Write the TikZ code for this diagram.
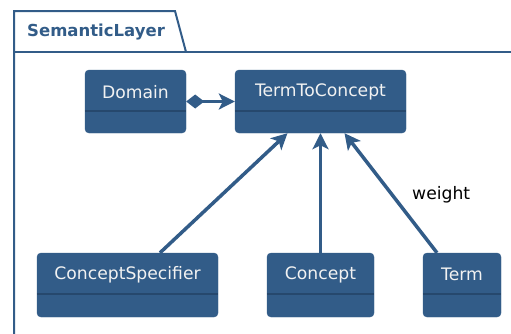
\documentclass[tikz,border=0pt]{standalone}
\usepackage{fontspec}
\setmainfont{DejaVu Sans}
\usetikzlibrary{arrows.meta,calc}
\definecolor{umlblue}{HTML}{325C88}
\definecolor{umldark}{HTML}{26486D}
\definecolor{umltext}{HTML}{F2F2F2}
\tikzset{
  cls/.style={fill=umlblue, draw=umlblue, rounded corners=4pt, inner sep=0pt},
  clstext/.style={text=umltext, font=\fontsize{17.2}{19}\selectfont, inner sep=0pt},
  divider/.style={draw=umldark, line width=1.5pt},
  conn/.style={draw=umlblue, line width=3.5pt},
  gen/.style={conn, -{Stealth[length=16pt,width=16pt,inset=4pt]}},
  pkg/.style={draw=umlblue, line width=2pt},
}
\begin{document}
\begin{tikzpicture}[x=1pt,y=-1pt]
\useasboundingbox (0,0) rectangle (511,333);
% package
\draw[pkg] (14,340) -- (14,11) -- (175,11) -- (186,52);
\draw[pkg] (14,52) -- (520,52);
\node[anchor=west, text=umlblue, font=\bfseries\fontsize{16.5}{18}\selectfont, inner sep=0pt] (title) at (27,32) {SemanticLayer};
% classes
\node[cls, minimum width=101pt, minimum height=63pt] (dom) at (135.5,101.5) {};
\node[cls, minimum width=171pt, minimum height=63pt] (ttc) at (320.5,101.5) {};
\node[cls, minimum width=181pt, minimum height=64pt] (cs) at (127.5,285) {};
\node[cls, minimum width=107pt, minimum height=64pt] (con) at (320.5,285) {};
\node[cls, minimum width=78pt, minimum height=64pt] (term) at (462,285) {};
\foreach \n/\t in {dom/Domain, ttc/TermToConcept, cs/ConceptSpecifier, con/Concept, term/Term}{
  \node[clstext] (\n-label) at ($(\n.north)+(0,22)$) {\t};
  \draw[divider] ($(\n.north west)+(0,41)$) -- ($(\n.north east)+(0,41)$);
}
% connectors
\draw[conn, {Diamond[length=18pt,width=14pt]}-{Stealth[length=16pt,width=16pt,inset=4pt]}] (dom.east) -- (ttc.west);
\draw[gen] ([xshift=32.5pt]cs.north) -- ([xshift=-33pt]ttc.south);
\draw[gen] (con.north) -- (ttc.south);
\draw[gen] ([xshift=-25pt]term.north) -- ([xshift=24pt]ttc.south);
\node[anchor=west, font=\fontsize{17.2}{19}\selectfont, inner sep=0pt] (w) at (412,195) {weight};
\end{tikzpicture}
\end{document}
